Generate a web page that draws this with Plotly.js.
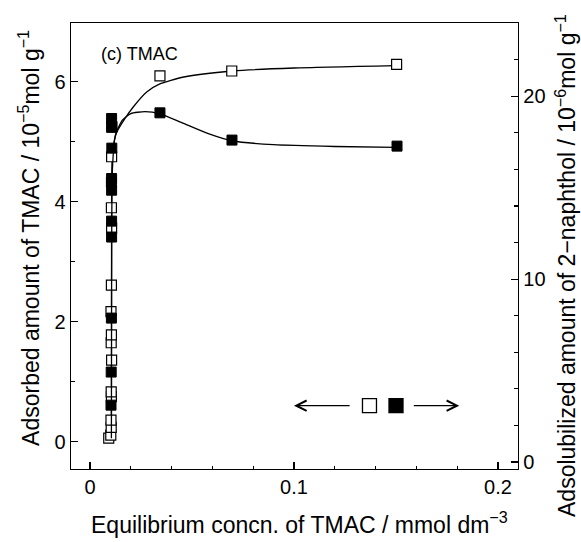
<!DOCTYPE html>
<html>
<head>
<meta charset="utf-8">
<script src="https://cdn.plot.ly/plotly-3.0.1.min.js"></script>
<style>html,body{margin:0;padding:0;background:#fff;}#chart{width:581px;height:542px;}</style>
</head>
<body>
<div id="chart"></div>
<script>
// Adsorbed amount of TMAC (open squares, left axis, 10^-5 mol g^-1)
const openX = [0.0092, 0.0102, 0.0104, 0.0103, 0.0105, 0.0104, 0.0106, 0.0104, 0.0105, 0.0103, 0.0105, 0.0106, 0.0105, 0.0106, 0.0107, 0.0343, 0.0695, 0.1503];
const openY = [0.06, 0.11, 0.24, 0.36, 0.75, 0.83, 1.36, 1.65, 1.78, 2.17, 2.61, 3.56, 3.90, 4.75, 5.25, 6.10, 6.18, 6.29];
// Adsolubilized amount of 2-naphthol (filled squares, right axis, 10^-6 mol g^-1)
const filledX = [0.0103, 0.0104, 0.0105, 0.0106, 0.0106, 0.0106, 0.0105, 0.0106, 0.0107, 0.0107, 0.0106, 0.0343, 0.0696, 0.1505];
const filledY = [3.11, 4.92, 7.87, 12.3, 13.17, 14.86, 15.3, 15.5, 17.16, 18.3, 18.78, 19.09, 17.6, 17.27];
// Smooth guide curves
const openCurveX = [0.0105, 0.0106, 0.0110, 0.0130, 0.0170, 0.0212, 0.0278, 0.0340, 0.0460, 0.0700, 0.1000, 0.1500];
const openCurveY = [0.00, 4.00, 4.80, 5.15, 5.38, 5.58, 5.83, 5.96, 6.08, 6.18, 6.23, 6.27];
const filledCurveX = [0.0105, 0.0106, 0.0110, 0.0125, 0.0160, 0.0200, 0.0270, 0.0340, 0.0450, 0.0580, 0.0700, 0.0900, 0.1200, 0.1500];
const filledCurveY = [1.3, 10.0, 16.0, 17.9, 18.7, 19.05, 19.15, 19.05, 18.55, 17.95, 17.55, 17.35, 17.25, 17.2];
const xTickVals = [0, 0.1, 0.2];
const xTickText = ['0', '0.1', '0.2'];
const yTickVals = [0, 2, 4, 6];
const y2TickVals = [0, 10, 20];
const xTitle = 'Equilibrium concn. of TMAC / mmol dm<sup>−3</sup>';
const yTitle = 'Adsorbed amount of TMAC / 10<sup>−5</sup>mol g<sup>−1</sup>';
const y2Title = 'Adsolubilized amount of 2−naphthol / 10<sup>−6</sup>mol g<sup>−1</sup>';
const panelLabel = '(c) TMAC';

const font = 'Liberation Sans, Arial, sans-serif';
const fs = 20;
const ts = 23;
const traces = [
  {x: filledCurveX, y: filledCurveY, yaxis: 'y2', mode: 'lines', line: {color: '#000', width: 1.3, shape: 'spline', smoothing: 0.6}, hoverinfo: 'skip'},
  {x: openCurveX, y: openCurveY, mode: 'lines', line: {color: '#000', width: 1.3, shape: 'spline', smoothing: 0.6}, hoverinfo: 'skip'},
  {x: filledX, y: filledY, yaxis: 'y2', mode: 'markers', marker: {symbol: 'square', size: 10, color: '#000', line: {color: '#000', width: 1}}},
  {x: openX, y: openY, mode: 'markers', marker: {symbol: 'square', size: 10, color: '#fff', line: {color: '#000', width: 1.2}}}
];
const layout = {
  width: 581, height: 542,
  margin: {l: 71, r: 63, t: 23, b: 73},
  paper_bgcolor: '#fff', plot_bgcolor: '#fff',
  showlegend: false,
  font: {family: font, size: fs, color: '#000'},
  xaxis: {
    range: [-0.0093, 0.2098], tickvals: xTickVals, ticktext: xTickText,
    ticks: 'inside', ticklen: 7, tickwidth: 1.2, tickcolor: '#000',
    minor: {dtick: 0.02, tick0: 0, ticks: 'inside', ticklen: 3, tickcolor: '#000'},
    showline: true, linecolor: '#000', linewidth: 1.3, mirror: true,
    showgrid: false, zeroline: false,
    tickfont: {size: fs}
  },
  yaxis: {
    range: [-0.455, 6.98], tickvals: yTickVals,
    ticks: 'inside', ticklen: 7, tickwidth: 1.2, tickcolor: '#000',
    minor: {dtick: 1, tick0: 0, ticks: 'inside', ticklen: 4, tickcolor: '#000'},
    showline: true, linecolor: '#000', linewidth: 1.3,
    showgrid: false, zeroline: false,
    tickfont: {size: fs}
  },
  yaxis2: {
    overlaying: 'y', side: 'right', anchor: 'x',
    range: [-0.38, 24], tickvals: y2TickVals,
    ticks: 'inside', ticklen: 7, tickwidth: 1.2, tickcolor: '#000',
    minor: {dtick: 2, tick0: 0, ticks: 'inside', ticklen: 4, tickcolor: '#000'},
    showline: true, linecolor: '#000', linewidth: 1.3,
    showgrid: false, zeroline: false,
    tickfont: {size: fs}
  },
  annotations: [
    {text: xTitle, xref: 'paper', yref: 'paper', x: 0.512, y: -0.121, xanchor: 'center', yanchor: 'middle', showarrow: false, font: {size: ts}},
    {text: yTitle, xref: 'paper', yref: 'paper', x: -0.094, y: 0.518, xanchor: 'center', yanchor: 'middle', textangle: -90, showarrow: false, font: {size: ts}},
    {text: y2Title, xref: 'paper', yref: 'paper', x: 1.107, y: 0.457, xanchor: 'center', yanchor: 'middle', textangle: -90, showarrow: false, font: {size: ts}},
    {text: panelLabel, xref: 'paper', yref: 'paper', x: 0.062, y: 0.93, xanchor: 'left', yanchor: 'middle', showarrow: false, font: {size: 18}},
    {text: '', xref: 'x', yref: 'y', axref: 'x', ayref: 'y', x: 0.100, y: 0.6, ax: 0.128, ay: 0.6, showarrow: true, arrowhead: 5, arrowsize: 1.7, arrowwidth: 1.2, arrowcolor: '#000'},
    {text: '', xref: 'x', yref: 'y', axref: 'x', ayref: 'y', x: 0.181, y: 0.6, ax: 0.158, ay: 0.6, showarrow: true, arrowhead: 5, arrowsize: 1.7, arrowwidth: 1.2, arrowcolor: '#000'}
  ],
  shapes: [
    {type: 'rect', xref: 'x', yref: 'y', xsizemode: 'pixel', ysizemode: 'pixel', xanchor: 0.137, yanchor: 0.6, x0: -7, x1: 7, y0: -7, y1: 7, line: {color: '#000', width: 1.3}, fillcolor: '#fff'},
    {type: 'rect', xref: 'x', yref: 'y', xsizemode: 'pixel', ysizemode: 'pixel', xanchor: 0.150, yanchor: 0.6, x0: -7, x1: 7, y0: -7, y1: 7, line: {color: '#000', width: 1.3}, fillcolor: '#000'}
  ]
};
Plotly.newPlot('chart', traces, layout, {displayModeBar: false, staticPlot: true});
</script>
</body>
</html>
